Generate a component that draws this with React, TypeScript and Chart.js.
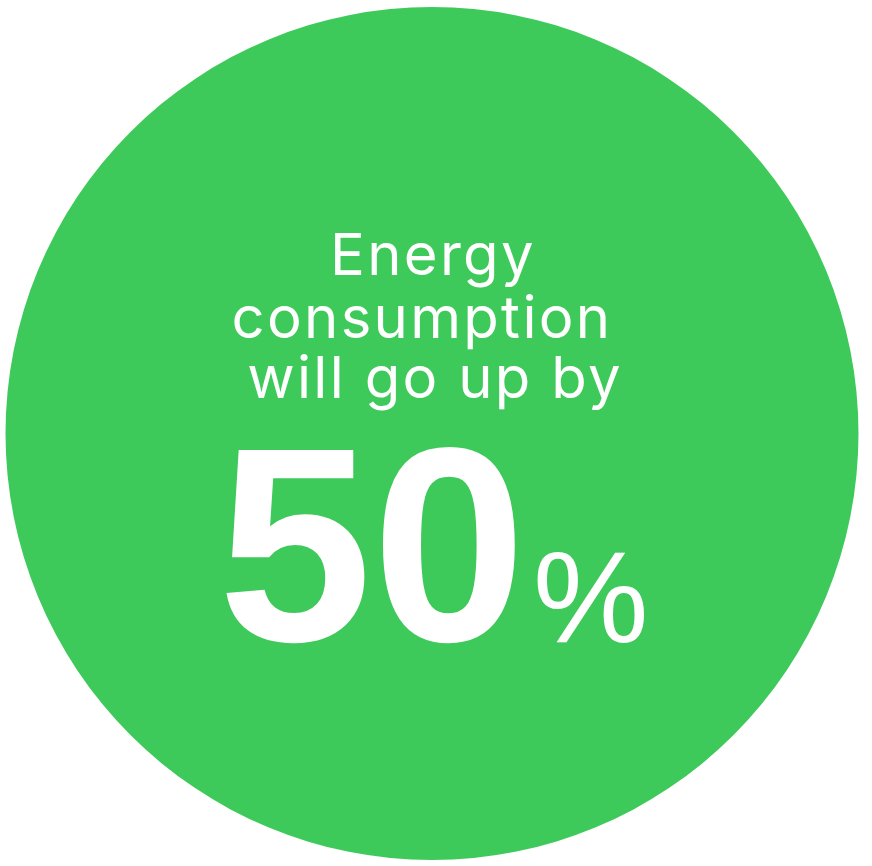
import React, { useEffect, useRef } from "react";
import { Chart, registerables } from "chart.js";

Chart.register(...registerables);

const categories = ["Energy consumption increase"];
const values = [50];
const headlineLines = ["Energy", "consumption", "will go up by"];
const unitLabel = "%";
const circleColor = "#3ECA5A";

const textPlugin = {
  id: "centerText",
  afterDraw(chart: any) {
    const meta = chart.getDatasetMeta(0);
    const arc = meta.data[0];
    if (!arc) return;
    const cx = arc.x;
    const cy = arc.y;
    const ctx = chart.ctx;
    ctx.save();
    ctx.fillStyle = "#ffffff";
    ctx.textBaseline = "alphabetic";
    ctx.textAlign = "center";
    ctx.font = "400 58px Inter";
    (ctx as any).letterSpacing = "2.3px";
    const offsets = [1, -10, 3];
    const baselines = [-159, -96, -36];
    headlineLines.forEach((t, i) => {
      ctx.fillText(t, cx + offsets[i], cy + baselines[i]);
    });
    (ctx as any).letterSpacing = "0px";
    ctx.textAlign = "left";
    ctx.font = "700 277px 'Liberation Sans'";
    ctx.fillText(String(values[0]), cx - 214, cy + 207);
    ctx.font = "400 130px 'Liberation Sans'";
    ctx.fillText(unitLabel, cx + 101, cy + 208);
    ctx.restore();
  },
};

export default function App() {
  const ref = useRef<HTMLCanvasElement>(null);
  useEffect(() => {
    if (!ref.current) return;
    const chart = new Chart(ref.current, {
      type: "pie",
      data: {
        labels: categories,
        datasets: [
          {
            data: values,
            backgroundColor: [circleColor],
            borderWidth: 0,
            hoverOffset: 0,
          },
        ],
      },
      options: {
        animation: false,
        responsive: false,
        maintainAspectRatio: false,
        layout: { padding: { left: 5.5, right: 13.5, top: 7, bottom: 6 } },
        plugins: {
          legend: { display: false },
          tooltip: { enabled: false },
          title: { display: false },
        },
      },
      plugins: [textPlugin],
    });
    return () => chart.destroy();
  }, []);
  return (
    <div style={{ position: "absolute", left: 0, top: 0, width: 872, height: 866, background: "#fff" }}>
      <canvas ref={ref} width={872} height={866} style={{ width: 872, height: 866, display: "block" }} />
    </div>
  );
}
